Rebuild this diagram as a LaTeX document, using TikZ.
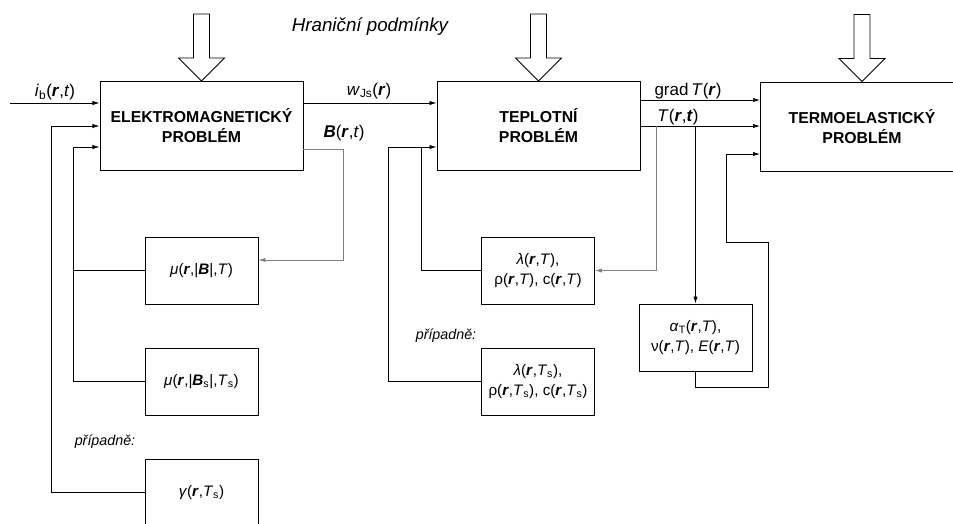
\documentclass[tikz,border=0pt]{standalone}
\usepackage{fontspec}
\setmainfont{Liberation Sans}
\usetikzlibrary{arrows.meta}

\newcommand{\bi}[1]{\textbf{\textit{#1}}}
\newcommand{\sub}[1]{\textsubscript{#1}}

\tikzset{
  >={Latex[length=6pt,width=3.6pt]},
  problem/.style={draw,line width=0.8pt,minimum width=6.09cm,minimum height=2.67cm,
    align=center,font=\fontsize{13.5}{17}\selectfont\bfseries},
  param/.style={draw,line width=0.7pt,minimum width=3.39cm,minimum height=2.01cm,
    align=center,font=\fontsize{13}{17}\selectfont},
  lbl/.style={font=\fontsize{14.5}{16}\selectfont},
  note/.style={font=\fontsize{12.2}{14}\selectfont\itshape},
  fb/.style={gray,line width=0.6pt},
  bcarrow/.pic={\draw[line width=0.7pt,fill=white]
    (0,0) -- (-23,-23) -- (-8,-23) -- (-8,-67) -- (8,-67) -- (8,-23) -- (23,-23) -- cycle;}
}

\begin{document}
\begin{tikzpicture}[x=0.03cm,y=-0.03cm,line width=0.6pt]
\useasboundingbox (0,0) rectangle (953,523);
\clip (0,0) rectangle (953,523);

% main blocks
\node[problem] (em) at (201.5,126) {ELEKTROMAGNETICKÝ\\PROBLÉM};
\node[problem] (tep) at (538.5,126) {TEPLOTNÍ\\PROBLÉM};
\node[problem] (termo) at (862,126.5) {TERMOELASTICKÝ\\PROBLÉM};

% material parameters
\node[param] (mu1) at (201.5,270.5) {\textit{μ}(\bi{r},|\bi{B}|,\textit{T})};
\node[param] (mu2) at (201.5,381.5) {\textit{μ}(\bi{r},|\bi{B}\sub{s}|,\textit{T}\sub{s})};
\node[param] (gam) at (201.5,492.5) {\textit{γ}(\bi{r},\textit{T}\sub{s})};
\node[param] (lam1) at (538,270.5) {\textit{λ}(\bi{r},\textit{T}),\\ρ(\bi{r},\textit{T}), c(\bi{r},\textit{T})};
\node[param] (lam2) at (538,381.5) {\textit{λ}(\bi{r},\textit{T}\sub{s}),\\ρ(\bi{r},\textit{T}\sub{s}), c(\bi{r},\textit{T}\sub{s})};
\node[param] (alpha) at (695.5,337.5) {\textit{α}\sub{T}(\bi{r},\textit{T}),\\ν(\bi{r},\textit{T}), \textit{E}(\bi{r},\textit{T})};

% boundary conditions
\node[font=\fontsize{16}{18}\selectfont\itshape] (hp) at (370,27) {Hraniční podmínky};
\pic at (em.north) {bcarrow};
\pic at (tep.north) {bcarrow};
\pic at (termo.north) {bcarrow};

% inputs and outputs
\coordinate (ib) at (10,103);
\draw[->] (ib) -- (ib -| em.west);
\node[lbl] (iblbl) at (55,92) {\textit{i}\sub{b}(\bi{r},\textit{t})};
\draw[->] (em.east |- ib) -- (tep.west |- ib);
\node[lbl] (wlbl) at (369,91) {\textit{w}\sub{Js}(\bi{r})};
\node[lbl] (blbl) at (344,133) {\bi{B}(\bi{r},\textit{t})};
\draw[->] (tep.east |- 0,100) -- (termo.west |- 0,100);
\node[lbl] (glbl) at (688,91) {grad\,\textit{T}(\bi{r})};
\draw[->] (tep.east) -- (termo.west |- tep.east);
\node[lbl] (tlbl) at (678,117) {\textit{T}(\bi{r},\bi{t})};

% electromagnetic feedback
\draw[fb,->] (em.east |- 0,149) -| (343,260) -- (mu1.east |- 0,260);
\draw[->] (mu1.west) -| (73,147) -- (em.west |- 0,147);
\draw (mu2.west) -| (73,270.5);
\draw[->] (gam.west) -| (51,126) -- (em.west |- 0,126);
\node[note] (pr1) at (105,442) {případně:};

% thermal feedback
\draw[fb,->] (656,126) -- (656,270.5) -- (lam1.east);
\draw[->] (lam2.west) -| (388,147) -- (tep.west |- 0,147);
\draw (lam1.west) -| (421,147);
\node[note] (pr2) at (446,336) {případně:};

% thermoelastic loop
\draw[->] (alpha.north |- tep.east) -- (alpha.north);
\draw[->] (alpha.south) -- (alpha.south |- 0,387) -| (768,242) -| (726,154) -- (termo.west |- 0,154);
\end{tikzpicture}
\end{document}
